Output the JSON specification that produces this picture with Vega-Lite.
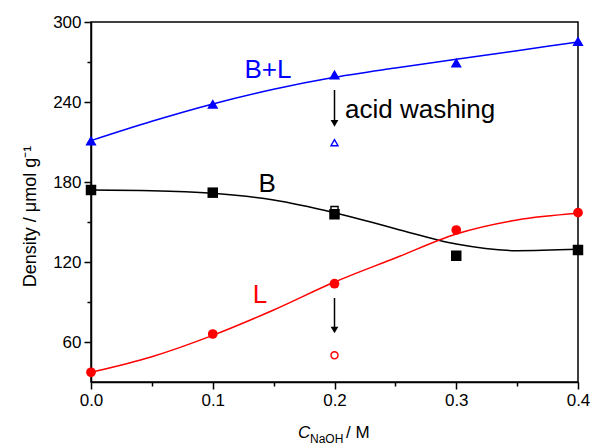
{
  "$schema": "https://vega.github.io/schema/vega-lite/v6.json",
  "width": 487,
  "height": 360,
  "autosize": {"type": "none"},
  "padding": {"left": 91, "top": 22, "right": 13, "bottom": 64},
  "background": "white",
  "config": {
    "font": "Liberation Sans",
    "view": {"stroke": "black", "strokeWidth": 1.5},
    "axis": {
      "grid": false,
      "domainColor": "black",
      "domainWidth": 1.5,
      "tickColor": "black",
      "tickWidth": 1.5,
      "labelColor": "black",
      "labelFontSize": 17,
      "labelFont": "Liberation Sans",
      "titleFont": "Liberation Sans",
      "titleColor": "black",
      "titleFontWeight": "normal"
    }
  },
  "datasets": {
    "curves": [
      {"series": "B+L", "x": 0.0, "y": 211},
      {"series": "B+L", "x": 0.05, "y": 225.5},
      {"series": "B+L", "x": 0.1, "y": 238.5},
      {"series": "B+L", "x": 0.15, "y": 249.5},
      {"series": "B+L", "x": 0.2, "y": 258.5},
      {"series": "B+L", "x": 0.25, "y": 265.5},
      {"series": "B+L", "x": 0.3, "y": 272},
      {"series": "B+L", "x": 0.35, "y": 278.5},
      {"series": "B+L", "x": 0.4, "y": 285},
      {"series": "B", "x": 0.0, "y": 174},
      {"series": "B", "x": 0.05, "y": 173.5},
      {"series": "B", "x": 0.1, "y": 171.5},
      {"series": "B", "x": 0.15, "y": 166.5},
      {"series": "B", "x": 0.2, "y": 157},
      {"series": "B", "x": 0.25, "y": 145},
      {"series": "B", "x": 0.3, "y": 133.5},
      {"series": "B", "x": 0.35, "y": 128.5},
      {"series": "B", "x": 0.4, "y": 129.5},
      {"series": "L", "x": 0.0, "y": 37.3},
      {"series": "L", "x": 0.05, "y": 49},
      {"series": "L", "x": 0.1, "y": 65},
      {"series": "L", "x": 0.15, "y": 84},
      {"series": "L", "x": 0.2, "y": 105},
      {"series": "L", "x": 0.25, "y": 123},
      {"series": "L", "x": 0.3, "y": 141},
      {"series": "L", "x": 0.35, "y": 151.5},
      {"series": "L", "x": 0.4, "y": 156.5}
    ],
    "points": [
      {"series": "B+L", "x": 0.0, "y": 211},
      {"series": "B+L", "x": 0.1, "y": 238.5},
      {"series": "B+L", "x": 0.2, "y": 260.5},
      {"series": "B+L", "x": 0.3, "y": 269.5},
      {"series": "B+L", "x": 0.4, "y": 285.7},
      {"series": "B", "x": 0.0, "y": 174},
      {"series": "B", "x": 0.1, "y": 172},
      {"series": "B", "x": 0.2, "y": 155.8},
      {"series": "B", "x": 0.3, "y": 124.7},
      {"series": "B", "x": 0.4, "y": 129},
      {"series": "L", "x": 0.0, "y": 37.3},
      {"series": "L", "x": 0.1, "y": 66},
      {"series": "L", "x": 0.2, "y": 103.7},
      {"series": "L", "x": 0.3, "y": 144},
      {"series": "L", "x": 0.4, "y": 157}
    ],
    "washed": [
      {"series": "B+L", "x": 0.2, "y": 209.5},
      {"series": "B", "x": 0.2, "y": 159},
      {"series": "L", "x": 0.2, "y": 50}
    ],
    "arrows": [
      {"x": 0.2, "y": 249, "y2": 224},
      {"x": 0.2, "y": 93, "y2": 69}
    ],
    "labels": [
      {"series": "B+L", "text": "B+L", "x": 0.1454, "y": 264},
      {"series": "B", "text": "B", "x": 0.1446, "y": 178.5},
      {"series": "L", "text": "L", "x": 0.1388, "y": 95.25}
    ],
    "annot": [
      {"text": "acid washing", "x": 0.2086, "y": 234}
    ],
    "xtitle": [
      {"part": "C", "x": 0.1700, "y": -8},
      {"part": "NaOH", "x": 0.1799, "y": -13},
      {"part": "/ M", "x": 0.2094, "y": -8}
    ]
  },
  "layer": [
    {
      "data": {"name": "curves"},
      "mark": {"type": "line", "interpolate": "monotone", "strokeWidth": 1.5},
      "encoding": {
        "x": {
          "field": "x", "type": "quantitative",
          "scale": {"domain": [0, 0.4], "nice": false, "zero": false},
          "axis": {
            "title": null,
            "values": [0, 0.05, 0.1, 0.15, 0.2, 0.25, 0.3, 0.35, 0.4],
            "labelExpr": "round(datum.value*20) % 2 == 0 ? format(datum.value, '.1f') : ''",
            "tickSize": {"condition": {"test": "round(datum.value*20) % 2 == 0", "value": 7}, "value": 4},
            "labelPadding": 3,
            "labelFlush": false
          }
        },
        "y": {
          "field": "y", "type": "quantitative",
          "scale": {"domain": [30, 300], "nice": false, "zero": false},
          "axis": {
            "title": "Density / μmol g⁻¹",
            "titleFontSize": 18,
            "titleX": -61,
            "titleY": 194,
            "titleBaseline": "middle",
            "titleAlign": "center",
            "values": [60, 90, 120, 150, 180, 210, 240, 270, 300],
            "labelExpr": "round(datum.value) % 60 == 0 ? datum.value : ''",
            "tickSize": {"condition": {"test": "round(datum.value) % 60 == 0", "value": 7}, "value": 4},
            "labelPadding": 3,
            "labelFlush": false
          }
        },
        "color": {
          "field": "series", "type": "nominal",
          "scale": {"domain": ["B+L", "B", "L"], "range": ["#0000ff", "#000000", "#ff0000"]},
          "legend": null
        },
        "detail": {"field": "series"}
      }
    },
    {
      "data": {"name": "washed"},
      "mark": {"type": "point", "filled": false, "strokeWidth": 1.4, "opacity": 1, "size": 50},
      "encoding": {
        "x": {"field": "x", "type": "quantitative"},
        "y": {"field": "y", "type": "quantitative"},
        "color": {"field": "series", "type": "nominal", "legend": null},
        "shape": {
          "field": "series", "type": "nominal",
          "scale": {"domain": ["B+L", "B", "L"], "range": ["triangle-up", "square", "circle"]},
          "legend": null
        }
      }
    },
    {
      "data": {"name": "points"},
      "mark": {"type": "point", "filled": true, "opacity": 1},
      "encoding": {
        "x": {"field": "x", "type": "quantitative"},
        "y": {"field": "y", "type": "quantitative"},
        "color": {"field": "series", "type": "nominal", "legend": null},
        "shape": {"field": "series", "type": "nominal", "legend": null},
        "size": {
          "field": "series", "type": "nominal",
          "scale": {"domain": ["B+L", "B", "L"], "range": [125, 95, 95]},
          "legend": null
        }
      }
    },
    {
      "data": {"name": "arrows"},
      "mark": {"type": "rule", "color": "black", "strokeWidth": 1.5},
      "encoding": {
        "x": {"field": "x", "type": "quantitative"},
        "y": {"field": "y", "type": "quantitative"},
        "y2": {"field": "y2"}
      }
    },
    {
      "data": {"name": "arrows"},
      "mark": {"type": "point", "shape": "triangle-down", "filled": true, "color": "black", "opacity": 1, "size": 60},
      "encoding": {
        "x": {"field": "x", "type": "quantitative"},
        "y": {"field": "y2", "type": "quantitative"}
      }
    },
    {
      "data": {"name": "labels"},
      "mark": {"type": "text", "fontSize": 26, "align": "center", "baseline": "middle", "font": "Liberation Sans"},
      "encoding": {
        "x": {"field": "x", "type": "quantitative"},
        "y": {"field": "y", "type": "quantitative"},
        "text": {"field": "text"},
        "color": {"field": "series", "type": "nominal", "legend": null}
      }
    },
    {
      "data": {"name": "annot"},
      "mark": {"type": "text", "fontSize": 26, "align": "left", "baseline": "middle", "color": "black", "font": "Liberation Sans"},
      "encoding": {
        "x": {"field": "x", "type": "quantitative"},
        "y": {"field": "y", "type": "quantitative"},
        "text": {"field": "text"}
      }
    },
    {
      "data": {"name": "xtitle"},
      "transform": [{"filter": "datum.part == 'C'"}],
      "mark": {"type": "text", "fontSize": 17, "fontStyle": "italic", "align": "left", "baseline": "middle", "color": "black", "font": "Liberation Sans"},
      "encoding": {
        "x": {"field": "x", "type": "quantitative"},
        "y": {"field": "y", "type": "quantitative"},
        "text": {"field": "part"}
      }
    },
    {
      "data": {"name": "xtitle"},
      "transform": [{"filter": "datum.part == 'NaOH'"}],
      "mark": {"type": "text", "fontSize": 12, "align": "left", "baseline": "middle", "color": "black", "font": "Liberation Sans"},
      "encoding": {
        "x": {"field": "x", "type": "quantitative"},
        "y": {"field": "y", "type": "quantitative"},
        "text": {"field": "part"}
      }
    },
    {
      "data": {"name": "xtitle"},
      "transform": [{"filter": "datum.part == '/ M'"}],
      "mark": {"type": "text", "fontSize": 17, "align": "left", "baseline": "middle", "color": "black", "font": "Liberation Sans"},
      "encoding": {
        "x": {"field": "x", "type": "quantitative"},
        "y": {"field": "y", "type": "quantitative"},
        "text": {"field": "part"}
      }
    }
  ]
}
